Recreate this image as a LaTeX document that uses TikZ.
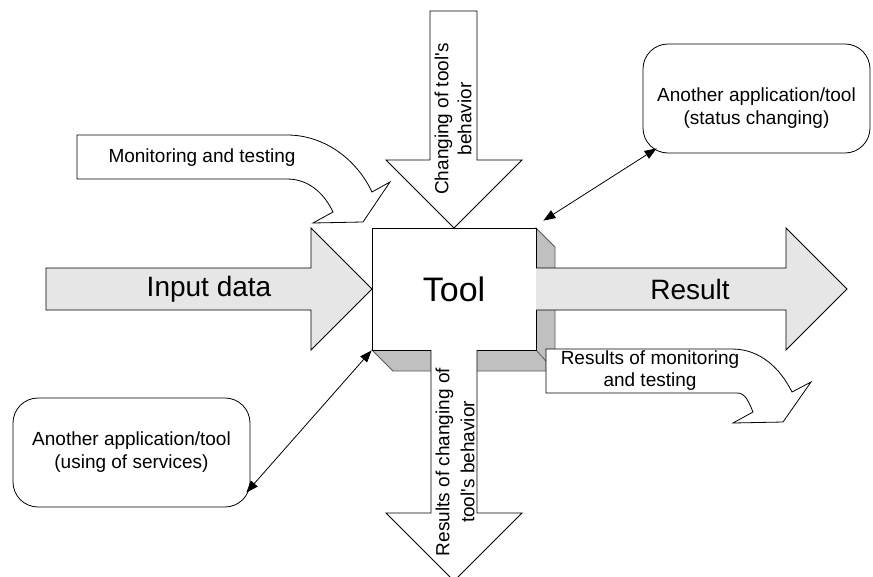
\documentclass[tikz,border=0pt]{standalone}
\usepackage{fontspec}
\setmainfont{Liberation Sans}
\usepackage{tikz}
\usetikzlibrary{arrows.meta}
\definecolor{shade}{RGB}{192,192,192}
\definecolor{light}{RGB}{230,230,230}
\definecolor{edge}{RGB}{90,90,90}

\begin{document}
\begin{tikzpicture}[line join=miter,>={Triangle[length=12pt,width=9pt]},x=1pt,y=-1pt, line width=0.8pt,
                    big/.style={font=\fontsize{28}{32}\selectfont},
                    small/.style={font=\fontsize{19}{23}\selectfont, align=center},
                    app/.style={draw, rounded corners=25pt, minimum height=109pt, small},
                    blk/.style={draw, fill=light}]
                    \useasboundingbox (0,0) rectangle (873,576);

                    % the box and its shadow
                    \draw[edge, fill=shade] (372,350) -- (393,371) -- (555,371) -- (555,247) -- (536,228) -- (536,350) -- cycle;
                    \draw[edge] (536,350) -- (555,371);
                    \node[draw, fill=white, minimum width=164pt, minimum height=122pt, font=\fontsize{34}{40}\selectfont] (tool) at (454,289) {Tool};

                    \draw[blk] (46,268) -- (311,268) -- (311,228) -- (372,289) -- (311,350) -- (311,310) -- (46,310) -- cycle;
                    \node[big] (input) at (209,289) {Input data};

                    \draw[blk] (536,268) -- (786,268) -- (786,228) -- (847,289) -- (786,350) -- (786,310) -- (536,310);
                    \node[big] (result) at (690,289) {Result};

                    \draw[fill=white] (430,11) -- (477,11) -- (477,160) -- (522,160) -- (454,228) -- (386,160) -- (430,160) -- cycle;
                    \node[small, rotate=90] (change) at (453,119) {Changing of tool\textquotesingle s\\behavior};

                    \draw[fill=white] (431,350) -- (431,513) -- (386,513) -- (454,581) -- (522,513) -- (477,513) -- (477,350);
                    \node[small, rotate=90, font=\fontsize{19}{25}\selectfont] (changeres) at (455,462) {Results of changing of\\tool\textquotesingle s behavior};

                    \draw[fill=white] (77,135) -- (287,135) .. controls (325,135) and (357,160) .. (372,192) -- (390,182) -- (363,222) -- (313,223) -- (333,212) .. controls (325,195) and (310,179) .. (287,179) -- (77,179) -- cycle;
                    \node[small] (mon) at (202,158) {Monitoring and testing};

                    \draw[fill=white] (546,349) -- (732,349) .. controls (760,349) and (780,368) .. (792,392) -- (811,382) -- (783,422) -- (733,423) -- (753,412) .. controls (748,400) and (745,393) .. (737,393) -- (546,393) -- cycle;
                    \node[small, font=\fontsize{19}{22}\selectfont] (monres) at (650,371) {Results of monitoring\\and testing};

                    \node[app, minimum width=227pt, text height=56pt] (appA) at (756.5,98.5) {Another application/tool\\(status changing)};
                    \node[app, minimum width=237pt] (appB) at (131.5,452.5) {Another application/tool\\(using of services)};

                    \draw[<->] ([shift={(7,-7)}]tool.north east) -- ([shift={(14,-5)}]appA.south west);
                    \draw[<->] (tool.south west) -- ([shift={(-4,40)}]appB.east);
                \end{tikzpicture}
\end{document}
